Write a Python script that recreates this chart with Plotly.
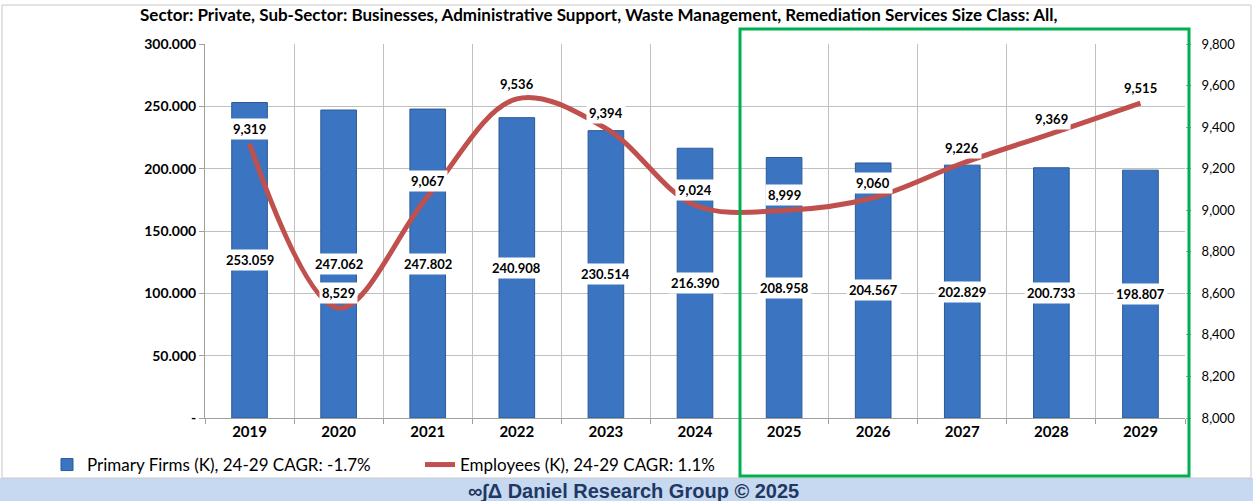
import plotly.graph_objects as go

years = ["2019", "2020", "2021", "2022", "2023", "2024", "2025", "2026", "2027", "2028", "2029"]
firms = [253059, 247062, 247802, 240908, 230514, 216390, 208958, 204567, 202829, 200733, 198807]
employees = [9319, 8529, 9067, 9536, 9394, 9024, 8999, 9060, 9226, 9369, 9515]
left_ticks = [0, 50000, 100000, 150000, 200000, 250000, 300000]
left_tick_text = ["-", "50.000", "100.000", "150.000", "200.000", "250.000", "300.000"]
right_ticks = [8000, 8200, 8400, 8600, 8800, 9000, 9200, 9400, 9600, 9800]
title = "Sector: Private, Sub-Sector: Businesses, Administrative Support, Waste Management, Remediation Services Size Class: All,"
firms_name = "Primary Firms (K), 24-29 CAGR: -1.7%"
emp_name = "Employees (K), 24-29 CAGR: 1.1%"
footer = "∞∫Δ Daniel Research Group © 2025"

FONT = "Lato"
W, H = 1253, 501
L, R, T, B = 205, 68, 44, 83
pw, ph = W - L - R, H - T - B

def px(x):
    return (x - L) / pw

def py(y):
    return (H - B - y) / ph

idx = list(range(len(years)))
bounds = [i - 0.5 for i in range(len(years) + 1)]

fig = go.Figure()
fig.add_trace(go.Bar(
    x=idx, y=firms, name=firms_name, width=0.4,
    marker=dict(color="#3b74c0", line=dict(color="#2c5a96", width=1)),
    yaxis="y",
))
fig.add_trace(go.Scatter(
    x=idx, y=employees, name=emp_name, mode="lines",
    line=dict(color="#c0504d", width=5, shape="spline", smoothing=1.0),
    yaxis="y2",
))

annotations = []
for i, v in zip(idx, firms):
    annotations.append(dict(
        x=i, y=v / 2, xref="x", yref="y",
        text="<b>" + f"{v:,}".replace(",", ".") + "</b>",
        showarrow=False, bgcolor="white", borderpad=2,
        xanchor="center", yanchor="middle",
        font=dict(family=FONT, size=13, color="#000000"),
    ))
for i, v in zip(idx, employees):
    annotations.append(dict(
        x=i, y=v, xref="x", yref="y2", yshift=15,
        text="<b>" + f"{v:,}" + "</b>",
        showarrow=False, bgcolor="white", borderpad=2,
        xanchor="center", yanchor="middle",
        font=dict(family=FONT, size=13, color="#000000"),
    ))
annotations.append(dict(
    x=px(598), y=py(15), xref="paper", yref="paper",
    xanchor="center", yanchor="middle",
    text="<b>" + title + "</b>", showarrow=False,
    font=dict(family=FONT, size=17, color="#000000"),
))
annotations.append(dict(
    x=px(633), y=py(491), xref="paper", yref="paper", showarrow=False,
    xanchor="center", yanchor="middle",
    text="<b>" + footer + "</b>",
    font=dict(family="Liberation Sans", size=20, color="#1f3864"),
))

shapes = [
    dict(type="rect", xref="paper", yref="paper",
         x0=px(0), x1=px(W), y0=py(478), y1=py(H + 2),
         fillcolor="#c6d9f0", line=dict(width=0), layer="below"),
    dict(type="rect", xref="paper", yref="paper",
         x0=px(2), x1=px(W - 2), y0=py(478), y1=py(5),
         line=dict(color="#c8c8c8", width=1)),
    dict(type="rect", xref="paper", yref="paper",
         x0=px(740), x1=px(1189), y0=py(476), y1=py(29),
         line=dict(color="#00b050", width=3)),
]

fig.update_layout(
    width=W, height=H,
    margin=dict(l=L, r=R, t=T, b=B),
    paper_bgcolor="white", plot_bgcolor="white",
    showlegend=True,
    legend=dict(orientation="h", x=px(47), y=py(447), xanchor="left", yanchor="top",
                font=dict(family=FONT, size=17, color="#000000"),
                entrywidth=328, itemwidth=30, bgcolor="rgba(0,0,0,0)"),
    xaxis=dict(range=[-0.5, len(years) - 0.5], tickvals=idx, ticktext=years,
               showgrid=False, ticks="",
               minor=dict(tickvals=bounds, showgrid=True, gridcolor="#c0c0c0",
                          ticks="outside", ticklen=5, tickcolor="#a0a0a0"),
               tickfont=dict(family=FONT, size=15, color="#000000", weight="bold"),
               showline=True, linecolor="#a0a0a0", zeroline=False),
    yaxis=dict(range=[0, 300000], tickvals=left_ticks, ticktext=left_tick_text,
               showgrid=True, gridcolor="#c0c0c0", zeroline=False,
               ticks="outside", ticklen=5, tickcolor="#a0a0a0",
               showline=True, linecolor="#a0a0a0",
               tickfont=dict(family=FONT, size=14, color="#000000", weight="bold")),
    yaxis2=dict(range=[8000, 9800], tickvals=right_ticks, tickformat=",",
                overlaying="y", side="right", showgrid=False, zeroline=False,
                ticks="outside", ticklen=5, tickcolor="#a0a0a0",
                showline=False, ticklabelstandoff=8,
                tickfont=dict(family=FONT, size=13, color="#000000")),
    annotations=annotations, shapes=shapes,
)

fig.write_html("out.html", config={"displayModeBar": False},
               post_script="document.body.style.margin='0px';")
